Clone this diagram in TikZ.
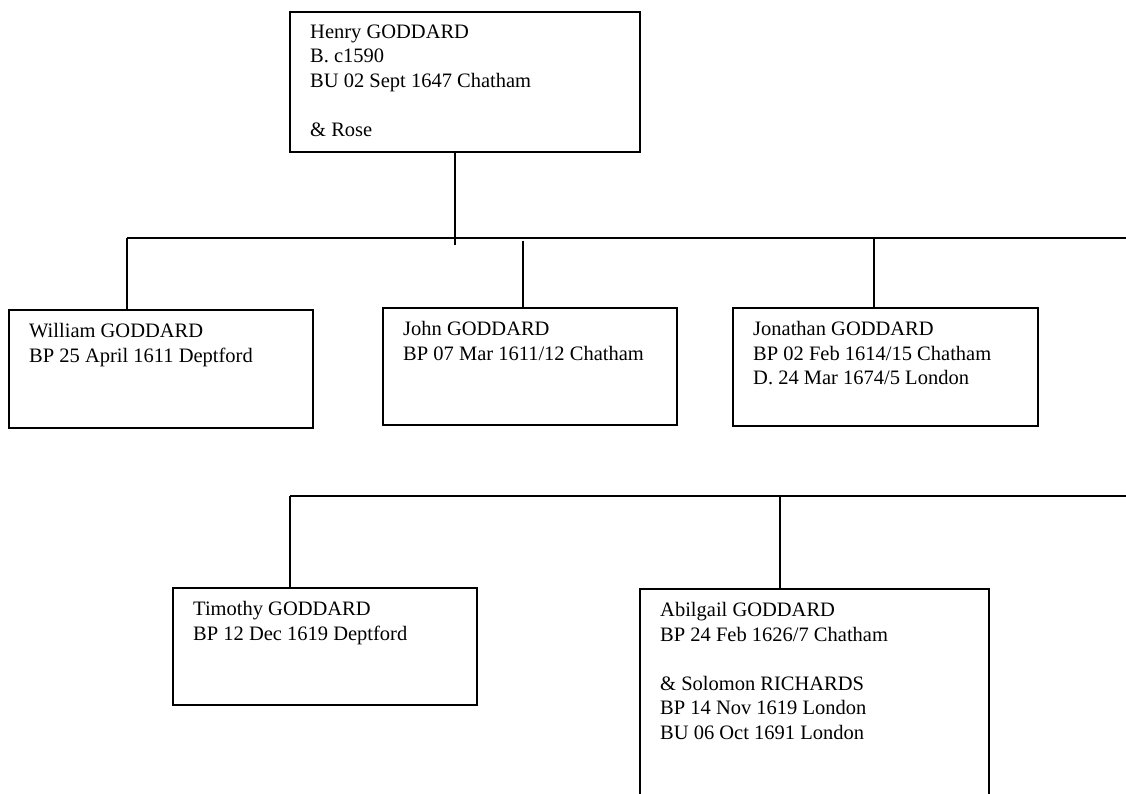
\documentclass[tikz,border=0pt]{standalone}
\usepackage{fontspec}
\setmainfont{Liberation Serif}
\begin{document}
\begin{tikzpicture}[x=1pt,y=-1pt,
  box/.style={draw, line width=1.5pt, rectangle, anchor=north west, inner sep=0pt, outer sep=0pt},
  txt/.style={anchor=north west, inner sep=0pt, align=left, font=\fontsize{20.5}{24.5}\selectfont},
  link/.style={line width=1.5pt}]
\clip (0,0) rectangle (1126,794);
\fill[white] (0,0) rectangle (1126,794);
% boxes
\node[box, minimum width=350, minimum height=140] (henry) at (290,12) {};
\node[box, minimum width=304, minimum height=118] (william) at (9,310) {};
\node[box, minimum width=294, minimum height=117] (john) at (383,308) {};
\node[box, minimum width=305, minimum height=118] (jonathan) at (733,308) {};
\node[box, minimum width=304, minimum height=117] (timothy) at (173,588) {};
\node[box, minimum width=349, minimum height=230] (abilgail) at (640,589) {};
% texts
\node[txt] (henryT) at ([shift={(20,12.5)}]henry.north west) {Henry GODDARD\\B. c1590\\BU 02 Sept 1647 Chatham\\[24.5pt]\& Rose};
\node[txt] (williamT) at ([shift={(20,13.5)}]william.north west) {William GODDARD\\BP 25 April 1611 Deptford};
\node[txt] (johnT) at ([shift={(20,13.5)}]john.north west) {John GODDARD\\BP 07 Mar 1611/12 Chatham};
\node[txt] (jonathanT) at ([shift={(20,13.5)}]jonathan.north west) {Jonathan GODDARD\\BP 02 Feb 1614/15 Chatham\\D. 24 Mar 1674/5 London};
\node[txt] (timothyT) at ([shift={(20,13.5)}]timothy.north west) {Timothy GODDARD\\BP 12 Dec 1619 Deptford};
\node[txt] (abilgailT) at ([shift={(20,13.5)}]abilgail.north west) {Abilgail GODDARD\\BP 24 Feb 1626/7 Chatham\\[24.5pt]\& Solomon RICHARDS\\BP 14 Nov 1619 London\\BU 06 Oct 1691 London};
% connectors
\coordinate (hdrop) at (455,245);
\coordinate (barAL) at (127,238);
\coordinate (barAR) at (1127,238);
\coordinate (johnTop) at (523,241);
\coordinate (jonTop) at (874,238);
\coordinate (barBL) at (290,496);
\coordinate (barBR) at (1127,496);
\coordinate (abiTop) at (780,496);
\draw[link] (henry.south -| hdrop) -- (hdrop);
\draw[link] (barAL) -- (barAR);
\draw[link] (barAL) -- (barAL |- william.north);
\draw[link] (johnTop) -- (johnTop |- john.north);
\draw[link] (jonTop) -- (jonTop |- jonathan.north);
\draw[link] (barBL) -- (barBR);
\draw[link] (barBL) -- (barBL |- timothy.north);
\draw[link] (abiTop) -- (abiTop |- abilgail.north);
\end{tikzpicture}
\end{document}
